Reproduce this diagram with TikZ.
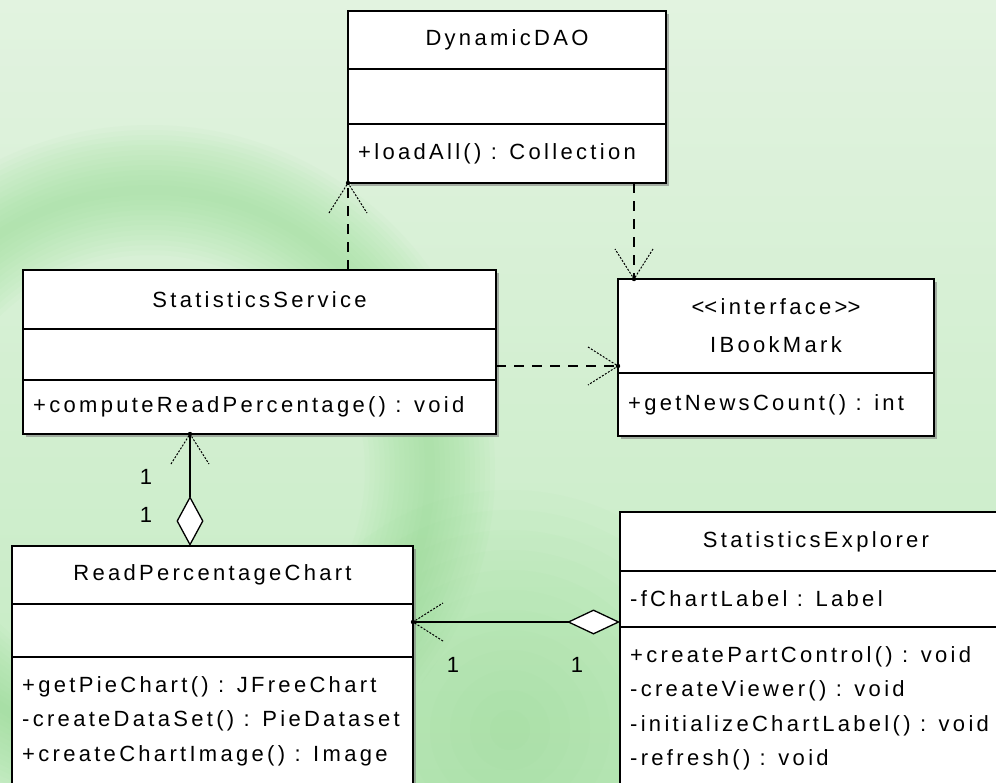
\documentclass[tikz,border=0pt]{standalone}
\usepackage{fontspec}
\setmainfont{Liberation Sans}[LetterSpace=15]
\usepackage{tikz}
\usetikzlibrary{calc}
\usetikzlibrary{arrows.meta, positioning}
\usetikzlibrary{decorations.markings}
\usetikzlibrary{shadows}

\definecolor{bgtop}{RGB}{226,243,224}
\definecolor{bgbot}{RGB}{196,235,194}
\definecolor{bgband}{RGB}{150,222,147}

\tikzset{
  classbox/.style={draw, line width=1.6pt, fill=white, inner sep=0pt, outer sep=0pt, anchor=north west,
    drop shadow={shadow xshift=3pt, shadow yshift=-3pt, opacity=.6}},
  optext/.style={anchor=west, inner sep=0pt, align=left},
  mult/.style={inner sep=0pt},
  vtip/.style={postaction={decorate, decoration={markings, mark=at position 1 with {
    \draw[arrows=-, line width=1pt, dash pattern=on 2pt off 1.5pt] (-30,19) -- (0,0) -- (-30,-19);
    \fill (0,0) circle (2.2);}}}},
  dep/.style={line width=1.3pt, dash pattern=on 10pt off 8pt, vtip},
  assoc/.style={line width=1.3pt, vtip},
}

\begin{document}
\begin{tikzpicture}[x=1pt,y=1pt,yscale=-1,xscale=1,font=\fontsize{22pt}{34.5pt}\selectfont]
\useasboundingbox (0,0) rectangle (996,782);

% background
\fill[top color=bgtop, bottom color=bgbot] (0,0) rectangle (996,782);
\foreach \w in {10,20,...,130}
  \draw[bgband, line width=\w pt, opacity=.055] (150,470) circle (280);
\foreach \r in {20,40,...,240}
  \fill[bgband, opacity=.05] (510,730) circle (\r);

% DynamicDAO
\node[classbox, minimum width=318pt, minimum height=58pt] (daoName) at (348,11) {DynamicDAO};
\node[classbox, minimum width=318pt, minimum height=55pt] (daoAttr) at (daoName.south west) {};
\node[classbox, minimum width=318pt, minimum height=59pt] (daoOps) at (daoAttr.south west) {};
\node[optext] (daoOp1) at ([xshift=10pt]daoOps.west) {+loadAll() : Collection};

% StatisticsService
\node[classbox, minimum width=473pt, minimum height=59pt] (svcName) at (23,270) {StatisticsService};
\node[classbox, minimum width=473pt, minimum height=51pt] (svcAttr) at (svcName.south west) {};
\node[classbox, minimum width=473pt, minimum height=54pt] (svcOps) at (svcAttr.south west) {};
\node[optext] (svcOp1) at ([xshift=10pt]svcOps.west) {+computeReadPercentage() : void};

% IBookMark
\node[classbox, minimum width=316pt, minimum height=94pt, align=center] (ibmName) at (618,279)
  {<\kern0pt<interface>\kern0pt>\\[3.5pt]IBookMark};
\node[classbox, minimum width=316pt, minimum height=63pt] (ibmOps) at (ibmName.south west) {};
\node[optext] (ibmOp1) at ([xshift=10pt]ibmOps.west) {+getNewsCount() : int};

% ReadPercentageChart
\node[classbox, minimum width=401pt, minimum height=58pt] (rpcName) at (12,546) {ReadPercentageChart};
\node[classbox, minimum width=401pt, minimum height=53pt] (rpcAttr) at (rpcName.south west) {};
\node[classbox, minimum width=401pt, minimum height=150pt] (rpcOps) at (rpcAttr.south west) {};
\node[optext, anchor=north west] (rpcOpList) at ($(rpcOps.north west)+(10,19)$)
  {+getPieChart() : JFreeChart\\-createDataSet() : PieDataset\\+createChartImage() : Image};

% StatisticsExplorer
\node[classbox, minimum width=392pt, minimum height=59pt] (sexpName) at (620,512) {StatisticsExplorer};
\node[classbox, minimum width=392pt, minimum height=56pt] (sexpAttr) at (sexpName.south west) {};
\node[optext] (sexpAt1) at ([xshift=10pt]sexpAttr.west) {-fChartLabel : Label};
\node[classbox, minimum width=392pt, minimum height=180pt] (sexpOps) at (sexpAttr.south west) {};
\node[optext, anchor=north west] (sexpOpList) at ($(sexpOps.north west)+(10,19)$)
  {+createPartControl() : void\\-createViewer() : void\\-initializeChartLabel() : void\\-refresh() : void};

% dependencies
\coordinate (ibmTop) at (634,279);
\coordinate (ibmSide) at (618,366);
\draw[dep] (svcName.north -| daoOps.south west) -- (daoOps.south west);
\draw[dep] (ibmTop |- daoOps.south) -- (ibmTop);
\draw[dep] (svcAttr.east |- ibmSide) -- (ibmSide);

% aggregations
\coordinate (svcBottom) at (190,434);
\coordinate (rpcSide) at (413,622);
\draw[assoc, {Diamond[fill=white, length=50pt, width=27pt]}-] (svcBottom |- rpcName.north) -- (svcBottom);
\draw[assoc, {Diamond[fill=white, length=53pt, width=25pt]}-] (sexpName.west |- rpcSide) -- (rpcSide);

% multiplicities
\node[mult] (mSvc) at (146,477) {1};
\node[mult] (mRpcTop) at (146,515) {1};
\node[mult] (mRpcSide) at (453,665) {1};
\node[mult] (mSexp) at (577,665) {1};

\end{tikzpicture}
\end{document}
